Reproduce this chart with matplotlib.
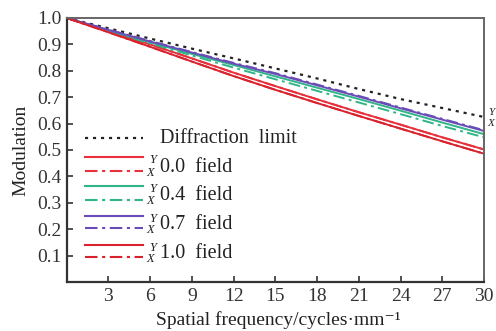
import matplotlib
matplotlib.use("Agg")
import matplotlib.pyplot as plt
from matplotlib.lines import Line2D

plt.rcParams['font.family'] = ['Liberation Serif', 'DejaVu Serif']
plt.rcParams['mathtext.fontset'] = 'stix'

freq = [0, 3, 6, 9, 12, 15, 18, 21, 24, 27, 30]
diffraction = [1.0, 0.961, 0.922, 0.884, 0.847, 0.809, 0.771, 0.731, 0.693, 0.659, 0.625]
f00_y = [1.0, 0.950, 0.900, 0.847, 0.793, 0.742, 0.692, 0.643, 0.596, 0.548, 0.502]
f00_x = [1.0, 0.950, 0.900, 0.847, 0.793, 0.742, 0.692, 0.643, 0.596, 0.548, 0.502]
f04_y = [1.0, 0.953, 0.908, 0.864, 0.822, 0.779, 0.736, 0.693, 0.649, 0.604, 0.560]
f04_x = [1.0, 0.951, 0.904, 0.858, 0.812, 0.768, 0.724, 0.680, 0.636, 0.591, 0.548]
f07_y = [1.0, 0.955, 0.911, 0.869, 0.827, 0.788, 0.745, 0.702, 0.658, 0.615, 0.572]
f07_x = [1.0, 0.956, 0.913, 0.871, 0.830, 0.791, 0.748, 0.705, 0.661, 0.618, 0.575]
f10_y = [1.0, 0.946, 0.891, 0.835, 0.780, 0.728, 0.678, 0.629, 0.581, 0.533, 0.486]
f10_x = [1.0, 0.946, 0.891, 0.835, 0.780, 0.728, 0.678, 0.629, 0.581, 0.533, 0.486]

field_labels = ["0.0  field", "0.4  field", "0.7  field", "1.0  field"]
xticks = [3, 6, 9, 12, 15, 18, 21, 24, 27, 30]
yticks = [0.1, 0.2, 0.3, 0.4, 0.5, 0.6, 0.7, 0.8, 0.9, 1.0]

RED1 = "#e8303c"
GREEN = "#2fb587"
PURPLE = "#6a4cb8"
RED2 = "#d8232e"
DD = (0, (6, 2.2, 1.5, 2.2))
DOT = (0, (1.4, 2.2))
FS = 14
TXT = "#222222"

W, H = 496, 331
fig = plt.figure(figsize=(W / 100, H / 100), dpi=100)
ax = fig.add_axes([66.7 / W, 1 - 282 / H, (484 - 66.7) / W, (282 - 18) / H])

ax.plot(freq, diffraction, color="#222222", ls=DOT, lw=1.6)
series = [
    (f00_y, f00_x, RED1),
    (f04_y, f04_x, GREEN),
    (f07_y, f07_x, PURPLE),
    (f10_y, f10_x, RED2),
]
for ys, xs, c in series:
    ax.plot(freq, xs, color=c, ls=DD, lw=1.4)
    ax.plot(freq, ys, color=c, ls="-", lw=1.4)

ax.set_xlim(0, 30)
ax.set_ylim(0, 1.0)
ax.set_xticks(xticks)
ax.set_xticklabels([str(t) for t in xticks])
ax.set_yticks(yticks)
ax.set_yticklabels(["%.1f" % t for t in yticks])
ax.tick_params(direction="in", length=4, width=1.2, labelsize=FS, colors="#333333")
ax.tick_params(axis="x", pad=4)
ax.tick_params(axis="y", pad=4)
for s in ["left", "bottom"]:
    ax.spines[s].set_color("#333333")
    ax.spines[s].set_linewidth(1.6)
for s in ["top", "right"]:
    ax.spines[s].set_color("#666666")
    ax.spines[s].set_linewidth(1.4)

ax.set_ylabel("Modulation", fontsize=FS, color=TXT, labelpad=5)
fig.text(278 / W, 1 - 320 / H, "Spatial frequency/cycles\u00b7mm\u207b\u00b9", fontsize=14,
         color=TXT, ha="center", va="center")


def P(x, y):
    return (x / W, 1 - y / H)


def hline(y, color, ls, lw=1.5):
    x0, yy = P(85, y)
    x1, _ = P(143, y)
    fig.add_artist(Line2D([x0, x1], [yy, yy], color=color, ls=ls, lw=lw,
                          transform=fig.transFigure))


hline(138, "#222222", DOT, 1.6)
fig.text(*P(160, 139), "Diffraction  limit", fontsize=14.5, va="center", ha="left", color=TXT)

rows = [(157, 171, RED1), (186, 199.5, GREEN), (215.5, 228, PURPLE), (245, 257, RED2)]
for (ys, yx, c), lab in zip(rows, field_labels):
    hline(ys, c, "-")
    hline(yx, c, DD)
    fig.text(*P(149, ys + 3), "Y", fontsize=9, style="italic", va="center", ha="left", color=TXT)
    fig.text(*P(146, yx + 2), "X", fontsize=9, style="italic", va="center", ha="left", color=TXT)
    fig.text(*P(160, (ys + yx) / 2 + 3), lab, fontsize=14.5, va="center", ha="left", color=TXT)

fig.text(*P(488, 112), "Y", fontsize=8, style="italic", va="center", ha="left", color=TXT)
fig.text(*P(487, 124), "X", fontsize=8, style="italic", va="center", ha="left", color=TXT)

fig.savefig("out.png", dpi=100)
